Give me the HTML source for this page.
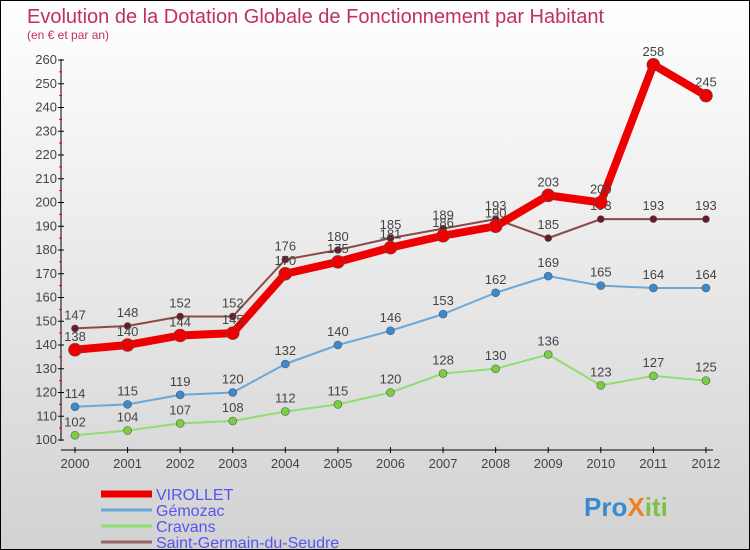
<!DOCTYPE html>
<html><head><meta charset="utf-8"><style>
body{margin:0}
#c{width:748px;height:548px;border:1px solid #000;background:linear-gradient(#fff,#d2d2d2);position:relative;font-family:"Liberation Sans",sans-serif}
svg{position:absolute;left:0;top:0}
</style></head><body>
<div id="c">
<svg id="s" width="748" height="548" xmlns="http://www.w3.org/2000/svg"></svg>
</div>
<script>
const years=[2000,2001,2002,2003,2004,2005,2006,2007,2008,2009,2010,2011,2012];
const virollet=[138,140,144,145,170,175,181,186,190,203,200,258,245];
const gemozac=[114,115,119,120,132,140,146,153,162,169,165,164,164];
const cravans=[102,104,107,108,112,115,120,128,130,136,123,127,125];
const saintGermain=[147,148,152,152,176,180,185,189,193,185,193,193,193];
const yTicks=[100,110,120,130,140,150,160,170,180,190,200,210,220,230,240,250,260];
const seriesNames=["VIROLLET","Gémozac","Cravans","Saint-Germain-du-Seudre"];
const NS="http://www.w3.org/2000/svg";
const s=document.getElementById('s');
const X=i=>74+i*52.58;
const Y=v=>439-(v-100)*2.375;
function el(t,a,txt){const e=document.createElementNS(NS,t);for(const k in a)e.setAttribute(k,a[k]);if(txt!==undefined)e.textContent=txt;s.appendChild(e);return e;}
let e;
e=el('text',{x:26,y:22,'font-size':20,fill:'#c0305a'},'Evolution de la Dotation Globale de Fonctionnement par Habitant');

e=el('text',{x:26,y:38,'font-size':12,fill:'#c0305a'},'(en € et par an)');

e=el('line',{x1:60,y1:58,x2:60,y2:440,stroke:'#000'});

e=el('line',{x1:60,y1:449,x2:712,y2:449,stroke:'#000'});

yTicks.forEach((v,i)=>{
  el('line',{x1:57,y1:Y(v),x2:63,y2:Y(v),stroke:'#000'});
  if(i<yTicks.length-1)el('line',{x1:58,y1:Y(v+5),x2:61,y2:Y(v+5),stroke:'#e00'});
  e=el('text',{x:56,y:Y(v)+4,'font-size':13,fill:'#444','text-anchor':'end'},v);
  
});
years.forEach((y,i)=>{
  el('line',{x1:X(i),y1:446,x2:X(i),y2:452,stroke:'#000'});
  e=el('text',{x:X(i),y:467,'font-size':13,fill:'#444','text-anchor':'middle'},y);
  
});
function series(data,color,dot,w,r,name){
  e=el('polyline',{points:data.map((v,i)=>X(i)+','+Y(v)).join(' '),fill:'none',stroke:color,'stroke-width':w,'stroke-linejoin':'round'});
  
  data.forEach((v,i)=>{
    e=el('circle',{cx:X(i),cy:Y(v),r:r,fill:dot,stroke:'#555','stroke-width':0.6});
    
    e=el('text',{x:X(i),y:Y(v)-9,'font-size':13,fill:'#444','text-anchor':'middle'},v);
    
  });
}
series(cravans,'#90dd70','#78d040',2,4,'cravans');
series(gemozac,'#6aa8d8','#3a8ad0',2,4,'gemozac');
series(saintGermain,'#8b4a4a','#6a1a2a',2,3.5,'saint-germain');
series(virollet,'#ee0000','#ee0000',8,6.5,'virollet');
const lc=['#ee0000','#6aa8d8','#90dd70','#996666'],lw=[7,3,3,3];
seriesNames.forEach((n,i)=>{
  const y=493+i*16;
  e=el('line',{x1:100,y1:y,x2:151,y2:y,stroke:lc[i],'stroke-width':lw[i]});
  
  e=el('text',{x:155,y:y+6,'font-size':16,fill:'#5555ee'},n);
  
});
e=el('text',{x:583,y:515,'font-size':26,'font-weight':'bold'});

[['Pro','#3a8ad0'],['X','#f08020'],['iti','#80c040']].forEach(([t,c])=>{const sp=document.createElementNS(NS,'tspan');sp.setAttribute('fill',c);sp.textContent=t;e.appendChild(sp);});
</script>
</body></html>
